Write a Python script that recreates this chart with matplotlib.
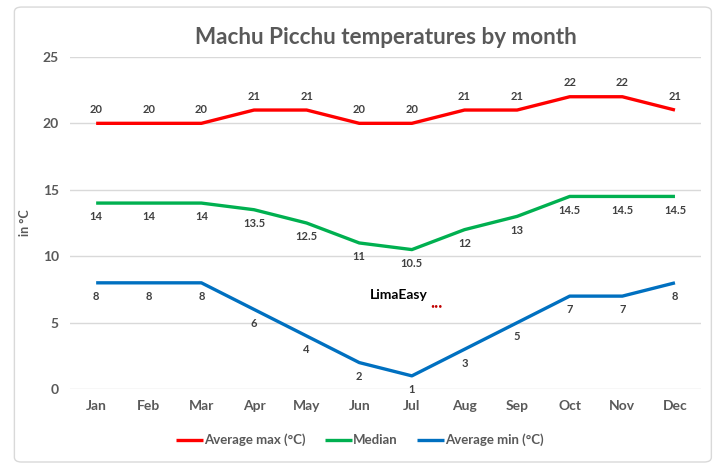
import matplotlib.pyplot as plt
from matplotlib.patches import FancyBboxPatch

months = ['Jan', 'Feb', 'Mar', 'Apr', 'May', 'Jun', 'Jul', 'Aug', 'Sep', 'Oct', 'Nov', 'Dec']
avg_max = [20, 20, 20, 21, 21, 20, 20, 21, 21, 22, 22, 21]
median = [14, 14, 14, 13.5, 12.5, 11, 10.5, 12, 13, 14.5, 14.5, 14.5]
avg_min = [8, 8, 8, 6, 4, 2, 1, 3, 5, 7, 7, 8]

plt.rcParams['font.family'] = ['Lato', 'DejaVu Sans']
grey = '#595959'

fig = plt.figure(figsize=(7.2, 4.7), dpi=100)
fig.patches.append(FancyBboxPatch((0.02, 0.017), 0.968, 0.968, boxstyle='round,pad=0,rounding_size=0.01',
                                  transform=fig.transFigure, fill=False, edgecolor='#d9d9d9', linewidth=1))
ax = fig.add_axes([0.097, 0.172, 0.877, 0.707])

x = range(len(months))
ax.plot(x, avg_max, color='#ff0000', lw=2.4, label='Average max (°C)', solid_capstyle='butt')
ax.plot(x, median, color='#00b050', lw=2.4, label='Median', solid_capstyle='butt')
ax.plot(x, avg_min, color='#0070c0', lw=2.4, label='Average min (°C)', solid_capstyle='butt')

def fmt(v):
    return str(int(v)) if v == int(v) else str(v)

for i in x:
    ax.annotate(fmt(avg_max[i]), (i, avg_max[i]), xytext=(0, 6), textcoords='offset points',
                ha='center', va='bottom', fontsize=8, color='#404040', fontweight='bold')
    ax.annotate(fmt(median[i]), (i, median[i]), xytext=(0, -6), textcoords='offset points',
                ha='center', va='top', fontsize=8, color='#404040', fontweight='bold')
    ax.annotate(fmt(avg_min[i]), (i, avg_min[i]), xytext=(0, -6), textcoords='offset points',
                ha='center', va='top', fontsize=8, color='#404040', fontweight='bold')

ax.set_xlim(-0.5, 11.5)
ax.set_ylim(0, 25)
ax.set_yticks([0, 5, 10, 15, 20, 25])
ax.set_xticks(list(x))
ax.set_xticklabels(months)
ax.tick_params(length=0, labelsize=10, colors=grey, pad=8)
for lbl in ax.get_xticklabels() + ax.get_yticklabels():
    lbl.set_fontweight('bold')
ax.grid(axis='y', color='#d9d9d9', lw=1)
ax.set_axisbelow(True)
for s in ax.spines.values():
    s.set_visible(False)
ax.set_ylabel('in °C', fontsize=9, color=grey, fontweight='bold', labelpad=8)
ax.set_title('Machu Picchu temperatures by month', fontsize=16.2, color=grey,
             fontweight='bold', pad=9)

# logo
ax.text(5.75, 7.1, 'LimaEasy', ha='center', va='center', fontsize=10, fontweight='bold', color='black')
fig.text(0.598, 0.35, '•••', color='#c00000', fontsize=5, ha='left', va='center')

fig.legend(loc='lower center', bbox_to_anchor=(0.5, 0.025), ncol=3, frameon=False,
           fontsize=9.5, labelcolor=grey, handlelength=2.0, handletextpad=0.1, columnspacing=1.5,
           prop={'weight': 'bold', 'size': 9.5})

fig.savefig('out.png', dpi=100)
